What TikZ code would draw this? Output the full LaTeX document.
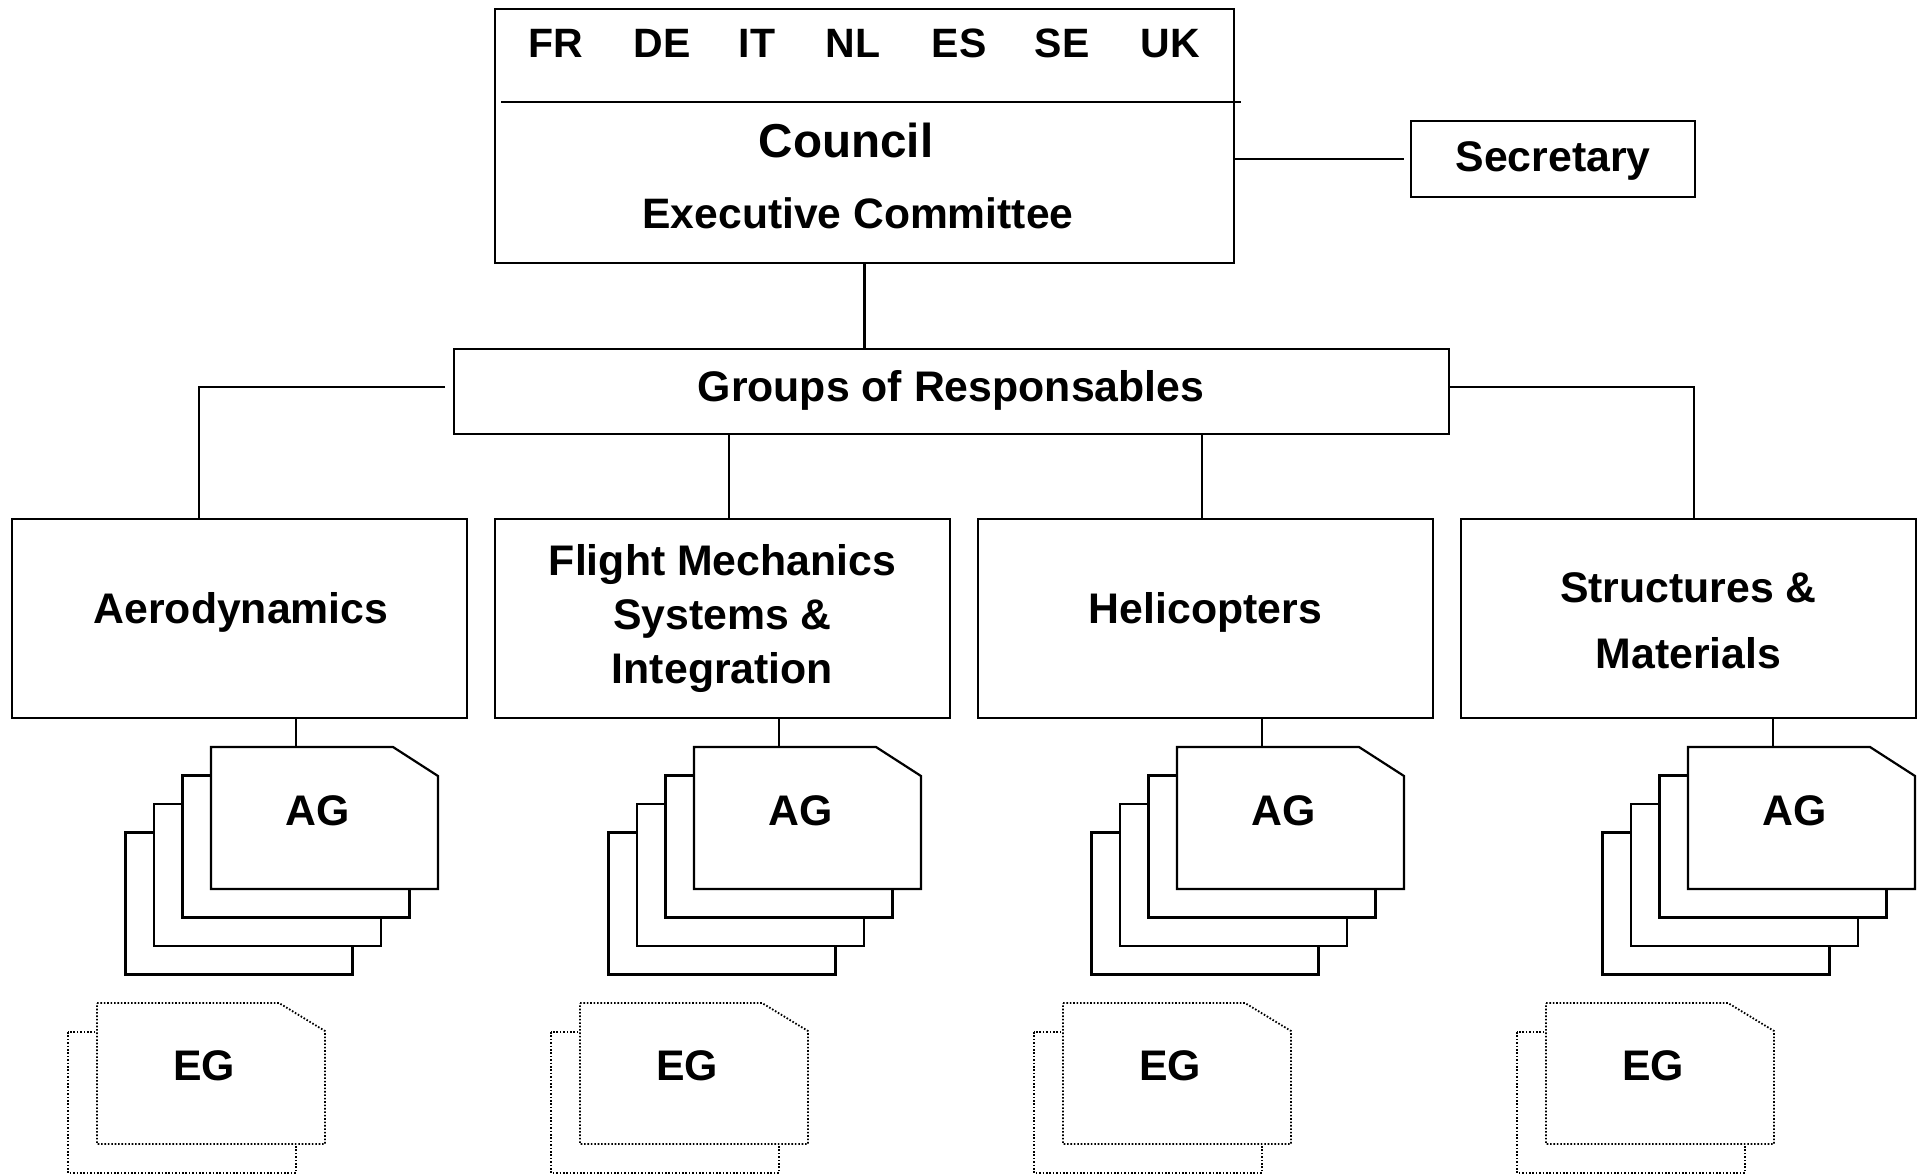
\documentclass[tikz,border=0pt]{standalone}
\usepackage{fontspec}
\setmainfont{Liberation Sans}
\usetikzlibrary{calc}
\begin{document}
\begin{tikzpicture}[x=0.5pt,y=-0.5pt,line width=1.1pt,
  box/.style={draw,inner sep=0pt,outer sep=0pt,fill=white},
  dombox/.style={box,minimum width=227.5pt,minimum height=99.5pt},
  lbl/.style={font=\fontsize{21.4}{25}\selectfont\bfseries,inner sep=0pt,anchor=base},
  ctry/.style={lbl,font=\fontsize{20.5}{24}\selectfont\bfseries},
  card/.style={draw,fill=white},
  egcard/.style={draw,fill=white,line width=0.9pt,dash pattern=on 0.8pt off 0.9pt}]
\useasboundingbox (0,0) rectangle (1925,1176);
\fill[white] (0,0) rectangle (1925,1176);
% top box
\node[box,minimum width=369.5pt,minimum height=127pt] (council) at (864.5,136) {};
\draw (501,102) -- (1241,102);
\foreach \c/\x in {FR/556,DE/662,IT/757,NL/853,ES/959,SE/1062,UK/1170}
  \node[ctry] (c\c) at (\x,58) {\c};
\node[lbl,font=\fontsize{23.8}{28}\selectfont\bfseries] (counciltxt) at (846,158) {Council};
\node[lbl,font=\fontsize{21.3}{25}\selectfont\bfseries] (exectxt) at (858,229) {Executive Committee};
% secretary
\node[box,minimum width=142pt,minimum height=38pt] (sec) at (1553,159) {};
\node[lbl] (sectxt) at (1553,172) {Secretary};
\draw (council.east |- sec.west) -- ($(sec.west)+(-7,0)$);
% groups
\node[box,minimum width=497.5pt,minimum height=42.5pt] (groups) at (951.5,391.5) {};
\node[lbl] (groupstxt) at (951,401) {Groups of Responsables};
\draw (council.south) -- (council.south |- groups.north);
% domains
\node[dombox] (aero) at (239.5,618.5) {};
\node[dombox] (fm) at (722.5,618.5) {};
\node[dombox] (heli) at (1205.5,618.5) {};
\node[dombox] (struct) at (1688.5,618.5) {};
\node[lbl] (aerotxt) at (241,623) {Aerodynamics};
\node[lbl] (fmtxt1) at (722.5,575) {Flight Mechanics};
\node[lbl] (fmtxt2) at (722.5,629) {Systems \&};
\node[lbl] (fmtxt3) at (722.5,683) {Integration};
\node[lbl] (helitxt) at (1205.5,623) {Helicopters};
\node[lbl] (structtxt1) at (1688.5,602) {Structures \&};
\node[lbl] (structtxt2) at (1688.5,668) {Materials};
% connectors groups -> domains
\coordinate (aerotop) at ($(aero.north west)+(187,0)$);
\coordinate (fmtop) at ($(fm.north west)+(234,0)$);
\coordinate (helitop) at ($(heli.north west)+(224,0)$);
\coordinate (structtop) at ($(struct.north west)+(233,0)$);
\draw ($(groups.west)+(-9,-4.5)$) -| (aerotop);
\draw ($(groups.east)+(0,-4.5)$) -| (structtop);
\draw (groups.south -| fmtop) -- (fmtop);
\draw (groups.south -| helitop) -- (helitop);
% AG stacks
\foreach \n/\fl in {aero/211,fm/694,heli/1177,struct/1688}{
  \foreach \k in {3,2,1}
    \draw[card] ({\fl-28.5*\k},{747+28.5*\k}) rectangle ++(227,142);
  \draw[card] (\fl,747) -- ++(182,0) -- ++(45,29) -- ({\fl+227},889) -- (\fl,889) -- cycle;
  \node[lbl] (ag-\n) at ({\fl+107},825) {AG};
  \coordinate (agtop-\n) at ({\fl+85},747);
  \draw (\n.south -| agtop-\n) -- (agtop-\n);
}
% EG stacks
\foreach \n/\el in {aero/97,fm/580,heli/1063,struct/1546}{
  \draw[egcard] ({\el-29},1032) rectangle ++(228,141);
  \draw[egcard] (\el,1003) -- ++(182,0) -- ++(46,28) -- ({\el+228},1144) -- (\el,1144) -- cycle;
  \node[lbl] (eg-\n) at ({\el+107},1080) {EG};
}
\end{tikzpicture}
\end{document}
